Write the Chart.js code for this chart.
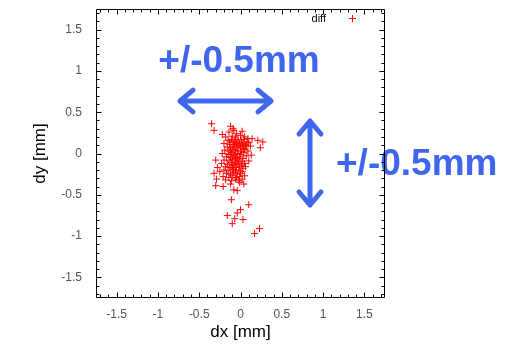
<!DOCTYPE html>
<html><head><meta charset="utf-8">
<script src="https://cdn.jsdelivr.net/npm/chart.js@4/dist/chart.umd.min.js"></script>
<style>html,body{margin:0;padding:0;background:#fff;}#wrap{width:508px;height:344px;position:relative;}</style>
</head><body><div id="wrap"><canvas id="c" width="508" height="344"></canvas></div>
<script>
const seriesLabel = 'diff';
const dx = [
 -0.14,-0.05,0.02,-0.09,
 -0.18,-0.10,-0.06,0.00,0.05,0.09,
 -0.15,-0.11,-0.07,-0.03,0.01,0.04,0.08,
 -0.20,-0.13,-0.09,-0.05,-0.02,0.02,0.06,0.10,
 -0.16,-0.12,-0.08,-0.04,0.00,0.03,0.07,
 -0.19,-0.14,-0.10,-0.06,-0.03,0.01,0.05,0.09,
 -0.22,-0.15,-0.11,-0.07,-0.04,0.00,0.04,
 -0.17,-0.12,-0.09,-0.05,-0.01,0.03,0.07,
 -0.20,-0.14,-0.10,-0.06,-0.02,0.02,
 -0.23,-0.16,-0.11,-0.07,-0.03,0.01,0.05,
 -0.18,-0.13,-0.09,-0.05,-0.01,0.03,
 -0.20,-0.15,-0.10,-0.06,-0.02,0.02,
 -0.17,-0.12,-0.08,-0.04,0.00,
 -0.21,-0.14,-0.10,-0.05,-0.01,0.05,
 -0.18,-0.11,-0.06,-0.02,0.02,
 -0.08,-0.12,-0.04,-0.09,-0.07,-0.01,-0.13,0.03,-0.06,-0.10,
 -0.35,-0.32,-0.12,-0.08,-0.22,0.27,0.24,0.21,0.14,0.12,0.13,0.10,0.06,
 -0.30,-0.32,-0.28,-0.25,-0.29,-0.30,-0.21,-0.12,-0.08,-0.04,0.04,-0.01,
 -0.11,0.10,0.00,-0.04,-0.16,-0.07,0.03,-0.10,0.23,0.17
];
const dy = [
 0.26,0.24,0.27,0.30,
 0.20,0.21,0.19,0.22,0.20,0.18,
 0.16,0.17,0.15,0.17,0.15,0.17,0.14,
 0.12,0.11,0.13,0.12,0.10,0.12,0.11,0.13,
 0.08,0.07,0.09,0.07,0.08,0.06,0.09,
 0.04,0.03,0.05,0.03,0.04,0.02,0.05,0.03,
 0.00,-0.01,0.01,-0.02,0.00,-0.01,0.01,
 -0.04,-0.05,-0.03,-0.05,-0.04,-0.06,-0.03,
 -0.08,-0.09,-0.07,-0.09,-0.08,-0.10,
 -0.12,-0.13,-0.11,-0.13,-0.12,-0.14,-0.12,
 -0.16,-0.17,-0.15,-0.17,-0.16,-0.18,
 -0.20,-0.21,-0.19,-0.21,-0.20,-0.22,
 -0.24,-0.25,-0.23,-0.25,-0.24,
 -0.28,-0.29,-0.27,-0.29,-0.28,-0.27,
 -0.32,-0.33,-0.31,-0.33,-0.31,
 0.05,-0.01,-0.10,-0.19,0.11,0.13,0.14,0.09,-0.06,-0.14,
 0.36,0.28,0.33,0.28,0.23,0.14,0.07,0.16,0.18,0.09,-0.02,-0.09,-0.16,
 -0.08,-0.24,-0.17,-0.22,-0.31,-0.39,-0.40,-0.37,-0.44,-0.45,-0.37,-0.35,
 -0.56,-0.62,-0.68,-0.72,-0.75,-0.79,-0.80,-0.85,-0.91,-0.97
];
const tickValues = [-1.5,-1,-0.5,0,0.5,1,1.5];
const axisMin = -1.75, axisMax = 1.75;
const xTitle = 'dx [mm]', yTitle = 'dy [mm]';
const noteText = '+/-0.5mm';

const points = dx.map((x,i)=>({x:x, y:dy[i]}));
const RED = '#ff0000', BLUE = '#4166ee';

function arrow(ctx, x1,y1,x2,y2, head){
  const ang = Math.atan2(y2-y1, x2-x1);
  ctx.beginPath();
  ctx.moveTo(x1,y1); ctx.lineTo(x2,y2);
  [[x1,y1,ang+Math.PI],[x2,y2,ang]].forEach(([x,y,a])=>{
    ctx.moveTo(x - head*Math.cos(a-0.7), y - head*Math.sin(a-0.7));
    ctx.lineTo(x,y);
    ctx.lineTo(x - head*Math.cos(a+0.7), y - head*Math.sin(a+0.7));
  });
  ctx.stroke();
}

const decor = {
  id:'decor',
  afterDraw(chart){
    const ctx = chart.ctx, xs = chart.scales.x, ys = chart.scales.y;
    const a = chart.chartArea;
    ctx.save();
    // annotations
    ctx.fillStyle = BLUE; ctx.strokeStyle = BLUE;
    ctx.font = 'bold 37px "Liberation Sans", Arial, sans-serif';
    ctx.textBaseline = 'alphabetic';
    ctx.textAlign = 'center';
    ctx.fillText(noteText, 239, 72);
    ctx.textAlign = 'left';
    ctx.fillText(noteText, 336, 175);
    ctx.lineWidth = 5; ctx.lineCap = 'round'; ctx.lineJoin = 'round';
    arrow(ctx, 180, 101, 271, 101, 17);
    arrow(ctx, 310, 121, 310, 205, 17);
    // frame
    ctx.strokeStyle = '#000'; ctx.lineWidth = 1; ctx.lineCap = 'butt';
    const L = Math.round(a.left)+0.5, R = Math.round(a.right)-0.5, T = Math.round(a.top)+0.5, B = Math.round(a.bottom)-0.5;
    ctx.beginPath(); ctx.rect(L, T, R-L, B-T); ctx.stroke();
    // ticks
    ctx.beginPath();
    for (let k=-17; k<=17; k++){
      const v = k/10; const major = (k%5===0);
      const len = major ? 5 : 3;
      const px = Math.round(xs.getPixelForValue(v))+0.5;
      ctx.moveTo(px, B); ctx.lineTo(px, B-len);
      ctx.moveTo(px, T); ctx.lineTo(px, T+len);
      const py = Math.round(ys.getPixelForValue(v))+0.5;
      ctx.moveTo(L, py); ctx.lineTo(L+len, py);
      ctx.moveTo(R, py); ctx.lineTo(R-len, py);
    }
    ctx.stroke();
    // legend
    ctx.fillStyle = '#000';
    ctx.font = '11px "Liberation Sans", Arial, sans-serif';
    ctx.textAlign = 'right';
    ctx.fillText(chart.data.datasets[0].label, 326, 22);
    ctx.strokeStyle = RED;
    ctx.beginPath();
    ctx.moveTo(349, 18.5); ctx.lineTo(356, 18.5);
    ctx.moveTo(352.5, 15); ctx.lineTo(352.5, 22);
    ctx.stroke();
    ctx.restore();
  }
};

const tickFont = {family:'"Liberation Sans", Arial, sans-serif', size:12};
const titleFont = {family:'"Liberation Sans", Arial, sans-serif', size:17};

new Chart(document.getElementById('c'), {
  type:'scatter',
  data:{datasets:[{label:seriesLabel, data:points, pointStyle:'cross', pointRadius:3.5, pointHoverRadius:3.5, borderColor:RED, backgroundColor:RED, borderWidth:1}]},
  options:{
    responsive:false, animation:false, devicePixelRatio:1,
    layout:{padding:{top:9, right:123, left:0, bottom:0}},
    plugins:{legend:{display:false}, tooltip:{enabled:false}},
    scales:{
      x:{type:'linear', min:axisMin, max:axisMax,
        afterBuildTicks:(s)=>{s.ticks = tickValues.map(v=>({value:v}));},
        afterFit:(s)=>{s.height = 46; s.paddingLeft = 0; s.paddingRight = 0;},
        grid:{display:false, drawTicks:false}, border:{display:false},
        ticks:{padding:9, color:'#555', font:tickFont, callback:(v)=>String(v), maxRotation:0, autoSkip:false},
        title:{display:true, text:xTitle, color:'#000', font:titleFont, padding:{top:0,bottom:1}}},
      y:{type:'linear', min:axisMin, max:axisMax,
        afterBuildTicks:(s)=>{s.ticks = tickValues.map(v=>({value:v}));},
        afterFit:(s)=>{s.width = 96; s.paddingTop = 0; s.paddingBottom = 0;},
        grid:{display:false, drawTicks:false}, border:{display:false},
        ticks:{padding:14, color:'#555', font:tickFont, callback:(v)=>String(v), autoSkip:false},
        title:{display:true, text:yTitle, color:'#000', font:titleFont, padding:{top:30,bottom:0}}}
    }
  },
  plugins:[decor]
});
</script></body></html>
